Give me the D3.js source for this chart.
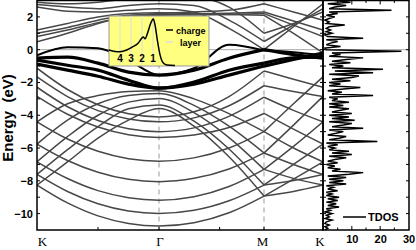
<!DOCTYPE html>
<html>
<head>
<meta charset="utf-8">
<script src="https://cdn.jsdelivr.net/npm/d3@7"></script>
<style>
  body { margin: 0; background: #fff; }
  svg text { font-family: Arial, "Liberation Sans", sans-serif; }
</style>
</head>
<body>
<div id="chart"></div>
<script>
// k-path sample points: K, 3 steps, Γ, 2 steps, M, 1 step, K
const kGrid = [0, 0.25, 0.5, 0.75, 1, 1.2887, 1.5774, 1.866, 2.116, 2.366];
const kLabels = ["K", "\u0393", "M", "K"];
const kLabelPos = [0, 1, 1.866, 2.366];

// gray bands (eV at each kGrid point)
const grayBands = [
    [-8.26, -9.35, -10.14, -10.6, -10.76, -10.56, -9.95, -8.93, -8.65, -8.26],
    [-7.61, -8.65, -9.40, -9.84, -9.99, -9.80, -9.22, -8.26, -7.98, -7.61],
    [-6.84, -7.86, -8.60, -9.03, -9.18, -8.97, -8.35, -7.30, -7.85, -8.26],
    [-5.76, -6.76, -7.48, -7.91, -8.05, -7.85, -7.28, -6.30, -7.00, -7.61],
    [-4.40, -5.45, -6.20, -6.65, -6.80, -6.60, -6.00, -5.00, -6.00, -6.84],
    [-2.85, -3.94, -4.72, -5.19, -5.35, -5.20, -4.75, -3.89, -4.85, -5.76],
    [-2.29, -3.48, -4.32, -4.83, -5.00, -4.77, -4.07, -2.90, -3.70, -4.40],
    [-1.66, -2.86, -3.72, -4.23, -4.40, -4.16, -3.42, -2.20, -2.55, -2.85],
    [-1.13, -2.43, -3.36, -3.91, -4.10, -3.79, -2.86, -1.30, -1.80, -2.29],
    [-8.26, -6.85, -5.40, -4.30, -3.59, -4.66, -6.53, -8.93, -7.90, -6.84],
    [-7.61, -6.10, -4.70, -3.60, -3.38, -4.36, -6.06, -8.26, -7.00, -5.76],
    [-6.84, -5.30, -4.00, -3.20, -2.98, -3.84, -5.36, -7.30, -5.90, -4.40],
    [-5.76, -4.30, -3.30, -2.80, -2.67, -3.40, -4.67, -6.30, -4.60, -2.85],
    [-4.40, -3.30, -2.80, -2.55, -2.50, -3.00, -3.90, -5.00, -3.30, -1.66],
    [1.20, 1.60, 2.00, 2.20, 2.25, 2.20, 2.15, 2.10, 1.00, -0.20],
    [1.00, 1.35, 1.80, 2.10, 2.15, 2.18, 2.22, 2.30, 1.75, 1.20],
    [0.80, 1.20, 1.65, 2.00, 2.10, 2.12, 2.15, 2.20, 1.50, 0.80],
    [0.48, 1.00, 1.60, 2.05, 2.20, 2.30, 2.40, 2.80, 2.30, 1.80],
    [2.60, 2.35, 2.30, 2.40, 2.50, 2.30, 1.30, 0.00, 1.40, 2.80],
    [2.75, 2.60, 2.50, 2.70, 2.80, 2.70, 1.80, 0.50, 1.50, 2.50],
    [2.90, 2.80, 2.90, 3.10, 3.20, 3.20, 2.60, 1.00, 1.60, 2.30]
];

// charge-layer bands (bold)
const layerBands = [
    [-0.34, 0.15, 0.09, -0.64, -1.55, -1.13, 0.30, -0.05, -0.15, -0.34],
    [-0.52, -0.46, -0.82, -1.37, -1.55, -1.25, -0.52, 0.00, -0.30, -0.52],
    [-0.64, -0.95, -1.25, -1.86, -2.35, -1.98, -1.25, -0.82, -0.50, -0.46],
    [-0.88, -1.25, -1.62, -2.10, -2.35, -2.10, -1.55, -1.00, -0.60, -0.20]
];

// total DOS, from -11 eV upward in 0.1 eV steps
const dosStart = -11, dosStep = 0.1;
const tdos = [
    0.5, 1.5, 0.5, 2, 0.5, 1, 3, 0.5, 2, 1,
    3, 0.5, 2.5, 1, 5.5, 1.5, 4.5, 1, 5, 1.5,
    5.5, 1, 3, 1, 5, 1.5, 3.5, 1, 8, 2,
    7, 2, 8, 1.5, 9, 14, 3, 6, 1.5, 4,
    1, 5, 1.5, 4, 8, 2, 10, 3, 9, 2,
    4, 1.5, 5, 1, 19, 2, 5.5, 8, 1.5, 4.5,
    7, 2, 14, 3, 7, 10, 2, 11, 3, 9,
    2, 10, 3, 6, 9, 2, 7, 2, 9, 3,
    5, 2, 17.5, 3, 6.5, 1.5, 7, 13, 2, 6,
    2, 9.5, 3, 10, 12.5, 2, 17.5, 4, 21, 3,
    7, 2, 9.5, 3, 8, 14, 2, 6, 3, 27.5,
    1, 0.5, 6, 1, 2.5, 5, 1, 14, 1.5, 0.5,
    3, 1, 2.5, 1, 2, 7.5, 1, 2, 0.5, 2,
    4, 1, 5, 2, 24, 2, 4, 8, 1.5, 9.5,
    4
];

// inset: charge profile across layers
const layerPos = [5.0, 4.45, 4.0, 3.39, 2.82, 2.36, 2.03, 1.88, 1.73, 1.45, 1.21, 0.97, 0.82, 0.61, 0.36, 0.06, -0.27, -1.0];
const charge = [0.32, 0.29, 0.285, 0.32, 0.39, 0.46, 0.56, 0.59, 0.55, 0.70, 0.87, 0.96, 0.84, 0.53, 0.22, 0.05, 0.01, 0.0];
const layerTicks = [4, 3, 2, 1];

const width = 416, height = 250;
const svg = d3.select("#chart").append("svg")
    .attr("width", width)
    .attr("height", height);

const bandLeft = 37, bandRight = 323, dosRight = 409, plotTop = 0.5, plotBottom = 230;
const x = d3.scaleLinear().domain([0, 1, 1.866, 2.366]).range([37, 159, 264, 323]);
const y = d3.scaleLinear().domain([-11, 3]).range([plotBottom, plotTop]);
const xd = d3.scaleLinear().domain([0, 30]).range([323.5, 408.5]);

svg.append("clipPath").attr("id", "bandclip")
    .append("rect")
    .attr("x", bandLeft).attr("y", plotTop)
    .attr("width", bandRight - bandLeft).attr("height", plotBottom - plotTop);
svg.append("clipPath").attr("id", "dosclip")
    .append("rect")
    .attr("x", bandRight).attr("y", plotTop)
    .attr("width", dosRight - bandRight).attr("height", plotBottom - plotTop);

// high-symmetry dashed lines
svg.append("g").selectAll("line")
    .data([1, 1.866])
    .join("line")
    .attr("x1", d => x(d)).attr("x2", d => x(d))
    .attr("y1", plotTop).attr("y2", plotBottom)
    .style("stroke", "#aaa")
    .style("stroke-width", 1.2)
    .style("stroke-dasharray", "5,4");

// Fermi level
svg.append("line")
    .attr("x1", bandLeft).attr("x2", dosRight)
    .attr("y1", y(0)).attr("y2", y(0))
    .style("stroke", "#aaa").style("stroke-width", 1);

// split each band at M so the folding point stays sharp
const line = d3.line().x(d => x(d[0])).y(d => y(d[1])).curve(d3.curveMonotoneX);
const segs = b => {
    const pts = b.map((e, i) => [kGrid[i], e]);
    return [pts.slice(0, 8), pts.slice(7)];
};

const bandG = svg.append("g").attr("clip-path", "url(#bandclip)");
bandG.selectAll("path.gray")
    .data(grayBands.flatMap(segs))
    .join("path")
    .attr("class", "gray")
    .attr("d", line)
    .style("fill", "none")
    .style("stroke", "#484848")
    .style("stroke-width", 1.5);

bandG.selectAll("path.layer")
    .data(layerBands.flatMap(segs))
    .join("path")
    .attr("class", "layer")
    .attr("d", line)
    .style("fill", "none")
    .style("stroke", "#000")
    .style("stroke-width", (d, i) => i < 2 ? 2 : 3.2);

// DOS curve
const dosLine = d3.line()
    .x(d => xd(d))
    .y((d, i) => y(dosStart + i * dosStep));
svg.append("g").attr("clip-path", "url(#dosclip)")
    .append("path")
    .attr("d", dosLine(tdos))
    .style("fill", "none")
    .style("stroke", "#000")
    .style("stroke-width", 1.5);

// frames
svg.append("rect")
    .attr("x", bandLeft).attr("y", plotTop)
    .attr("width", bandRight - bandLeft).attr("height", plotBottom - plotTop)
    .style("fill", "none").style("stroke", "#000").style("stroke-width", 1.5);
svg.append("rect")
    .attr("x", bandRight).attr("y", plotTop)
    .attr("width", dosRight - bandRight).attr("height", plotBottom - plotTop)
    .style("fill", "none").style("stroke", "#000").style("stroke-width", 1.5);

// y axis (left, ticks inward)
const yMajor = [-10, -8, -6, -4, -2, 0, 2];
const yAll = d3.range(-10, 3, 1);
const yAxis = d3.axisLeft(y).tickValues(yMajor).tickSize(0).tickPadding(4);
svg.append("g")
    .attr("transform", `translate(${bandLeft},0)`)
    .call(yAxis)
    .call(g => g.select(".domain").remove())
    .selectAll("text")
    .style("font-size", "11px")
    .style("font-weight", "bold")
    .style("font-family", "Arial, 'Liberation Sans', sans-serif");

const tickG = svg.append("g").style("stroke", "#000").style("stroke-width", 1);
[bandLeft, bandRight].forEach(px => {
    tickG.append("g").selectAll("line")
        .data(yAll)
        .join("line")
        .attr("x1", px).attr("x2", px + 3)
        .attr("y1", d => y(d)).attr("y2", d => y(d));
});
[bandRight, dosRight].forEach(px => {
    tickG.append("g").selectAll("line")
        .data(yAll)
        .join("line")
        .attr("x1", px).attr("x2", px - 3)
        .attr("y1", d => y(d)).attr("y2", d => y(d));
});
// k-axis minor ticks
tickG.append("g").selectAll("line")
    .data([0.5, 1, 1.5, 1.866])
    .join("line")
    .attr("x1", d => x(d)).attr("x2", d => x(d))
    .attr("y1", plotBottom).attr("y2", plotBottom - 3);
// DOS axis ticks top and bottom
tickG.append("g").selectAll("line")
    .data([5, 10, 15, 20, 25])
    .join("line")
    .attr("x1", d => xd(d)).attr("x2", d => xd(d))
    .attr("y1", plotBottom).attr("y2", d => plotBottom - (d % 10 ? 2.5 : 4));
tickG.append("g").selectAll("line")
    .data([5, 10, 15, 20, 25])
    .join("line")
    .attr("x1", d => xd(d)).attr("x2", d => xd(d))
    .attr("y1", plotTop).attr("y2", d => plotTop + (d % 10 ? 2.5 : 4));

// k labels
svg.append("g").selectAll("text")
    .data(kLabels)
    .join("text")
    .attr("x", (d, i) => x(kLabelPos[i]) + [5.5, 1, -1.5, -3][i])
    .attr("y", 246)
    .attr("text-anchor", "middle")
    .style("font-family", "'Times New Roman', 'Liberation Serif', serif")
    .style("font-size", "13px")
    .text(d => d);

// DOS axis labels
const xdAxis = d3.axisBottom(xd).tickValues([10, 20, 30]).tickSize(0).tickPadding(3);
svg.append("g")
    .attr("transform", `translate(0,${plotBottom + 2})`)
    .call(xdAxis)
    .call(g => g.select(".domain").remove())
    .selectAll("text")
    .style("font-size", "11px")
    .style("font-weight", "bold");

// y title
svg.append("text")
    .attr("transform", `translate(13,118) rotate(-90)`)
    .attr("text-anchor", "middle")
    .style("font-size", "15px")
    .style("font-weight", "bold")
    .style("white-space", "pre")
    .text("Energy  (eV)");

// TDOS legend
svg.append("line")
    .attr("x1", 343).attr("x2", 366)
    .attr("y1", 217).attr("y2", 217)
    .style("stroke", "#000").style("stroke-width", 1.5);
svg.append("text")
    .attr("x", 368).attr("y", 221)
    .style("font-size", "11px").style("font-weight", "bold")
    .text("TDOS");

// inset
const ix = d3.scaleLinear().domain([5, -4.09]).range([109, 209]);
const iy = d3.scaleLinear().domain([0, 1]).range([65.5, 17]);
const inset = svg.append("g");
inset.append("rect")
    .attr("x", 109).attr("y", 16).attr("width", 100).attr("height", 50)
    .style("fill", "#ffff80")
    .style("stroke", "#999").style("stroke-width", 1);
inset.selectAll("line.lay")
    .data(layerTicks)
    .join("line")
    .attr("class", "lay")
    .attr("x1", d => ix(d)).attr("x2", d => ix(d))
    .attr("y1", 16).attr("y2", 66)
    .style("stroke", "#ddd").style("stroke-width", 1);
inset.selectAll("text.lay")
    .data(layerTicks)
    .join("text")
    .attr("class", "lay")
    .attr("x", d => ix(d)).attr("y", 62)
    .attr("text-anchor", "middle")
    .style("font-size", "10px").style("font-weight", "bold")
    .text(d => d);
inset.append("path")
    .attr("d", d3.line().x(d => ix(d[0])).y(d => iy(d[1])).curve(d3.curveMonotoneX)(layerPos.map((p, i) => [p, charge[i]])))
    .style("fill", "none").style("stroke", "#000").style("stroke-width", 1.5);
inset.append("line")
    .attr("x1", 166).attr("x2", 173).attr("y1", 30).attr("y2", 30)
    .style("stroke", "#000").style("stroke-width", 1.5);
inset.append("text")
    .attr("x", 176).attr("y", 33.5)
    .style("font-size", "9px").style("font-weight", "bold")
    .text("charge");
inset.append("line")
    .attr("x1", 166).attr("x2", 173).attr("y1", 42).attr("y2", 42)
    .style("stroke", "#ddd").style("stroke-width", 1.5);
inset.append("text")
    .attr("x", 180).attr("y", 45.5)
    .style("font-size", "9px").style("font-weight", "bold")
    .text("layer");
</script>
</body>
</html>
